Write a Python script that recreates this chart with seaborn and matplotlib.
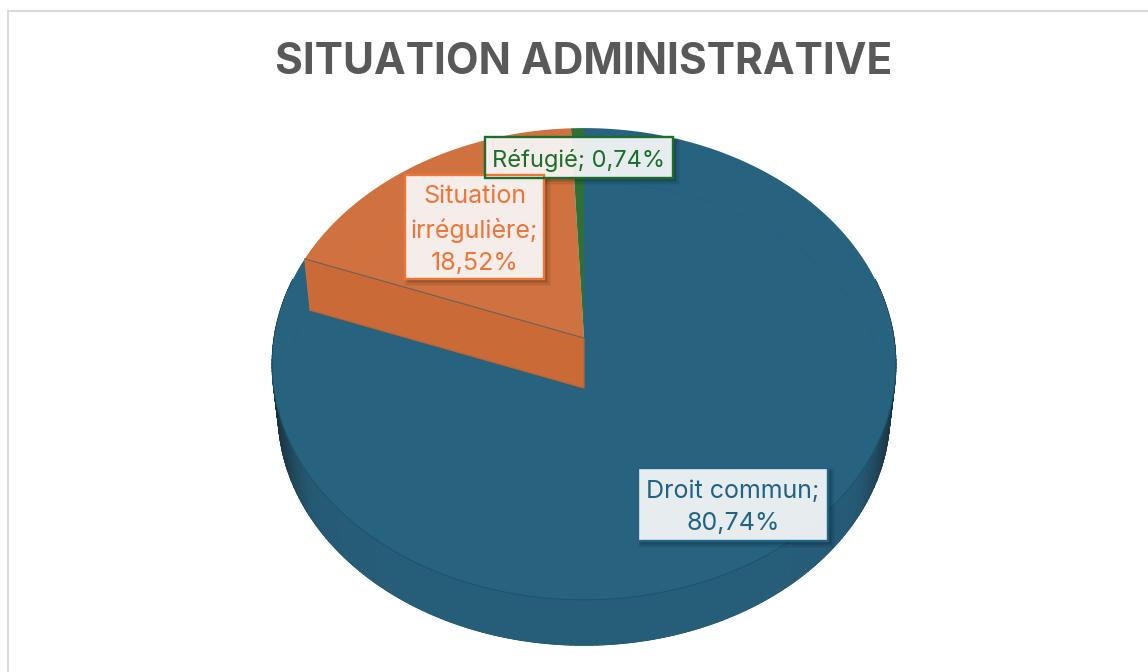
import numpy as np
import matplotlib
matplotlib.use("Agg")
import matplotlib.pyplot as plt
import seaborn as sns
from matplotlib.patches import Rectangle

categories = ["Droit commun", "Situation irrégulière", "Réfugié"]
values = [80.74, 18.52, 0.74]
label_lines = [["Droit commun;", "{}"], ["Situation", "irrégulière;", "{}"], ["Réfugié; {}"]]

sns.set_theme(style="white")
plt.rcParams["font.family"] = ["Inter", "DejaVu Sans"]

face_colors = sns.color_palette(["#27637F", "#D0723F", "#2E7037"])
wall_orange = "#CA6A36"
text_colors = ["#1F6386", "#EE7538", "#1B6E2B"]
side_cmap = sns.blend_palette(["#265D78", "#255A74", "#1E3F50", "#1A2F3B"], 256, as_cmap=True)

# placement of the three label boxes, in pixels: left, top, right, bottom
boxes = [(638, 468, 828, 541), (405, 175, 544, 279), (485, 137, 673, 178)]
label_sizes = [18, 18, 17]

top_ring = dict(cy=338, a=310, b=233)
low_ring = dict(cy=388, a=304, b=229)
persp = 0.11


def project(theta, ring):
    """map clockwise pie angle (degrees from 12 o'clock) to the tilted disc"""
    t = np.radians(theta)
    w = 1 + persp * np.cos(t)
    return 584 + ring["a"] * np.sin(t) / w, ring["cy"] - ring["b"] * np.cos(t) / w


def arc(start, stop, ring):
    return project(np.linspace(start, stop, 240), ring)


def draw_box(ax, box, color):
    x0, y0, x1, y1 = box
    for grow, alpha in [(4, 0.04), (2.5, 0.06), (1, 0.08), (0, 0.1)]:
        ax.add_patch(Rectangle((x0 + 3 - grow, y0 + 3 - grow), x1 - x0 + 2 * grow, y1 - y0 + 2 * grow,
                               facecolor="black", edgecolor="none", alpha=alpha, zorder=8))
    ax.add_patch(Rectangle((x0, y0), x1 - x0, y1 - y0, facecolor="white", alpha=0.9,
                           edgecolor="none", zorder=9))
    ax.add_patch(Rectangle((x0, y0), x1 - x0, y1 - y0, facecolor="none", edgecolor=color,
                           linewidth=1.7, zorder=10))


fig = plt.figure(figsize=(11.48, 6.72), dpi=100)
ax = fig.add_axes([0, 0, 1, 1])
ax.set_xlim(0, 1148)
ax.set_ylim(672, 0)
ax.axis("off")

# outer frame of the chart area
ax.add_patch(Rectangle((8, 10.5), 1200, 700, facecolor="white", edgecolor="#D9D9D9", linewidth=1.4))

ends = np.cumsum(values) * 3.6
starts = np.r_[0, ends[:-1]]

# side of the disc, darker towards the silhouette
xa, ya = arc(75, 285, top_ring)
xb, yb = arc(75, 285, low_ring)
ax.fill(np.r_[xa, xb[::-1]], np.r_[ya, yb[::-1]], color="#25597A", lw=0.5, zorder=1.5)
shade = np.abs(np.sin(np.radians(np.linspace(75, 285, 240)))) ** 6
ax.pcolormesh(np.vstack([xa, xb]), np.vstack([ya, yb]), np.vstack([shade, shade]),
              shading="gouraud", cmap=side_cmap, vmin=0, vmax=1, zorder=2)

# top faces
for start, stop, col in zip(starts, ends, face_colors):
    xs, ys = arc(start, stop, top_ring)
    ax.fill(np.r_[584, xs], np.r_[top_ring["cy"], ys], color=col, lw=0, zorder=3)

# front seam of the top face and back edge seen through the disc
xs, ys = arc(95, 265, top_ring)
ax.plot(xs, ys, color="#1C546E", lw=0.8, zorder=4)
xs, ys = arc(0, 85, low_ring)
ax.plot(xs, ys, color="#256180", lw=0.7, zorder=4)
xs, ys = arc(275, ends[0], low_ring)
ax.plot(xs, ys, color="#256180", lw=0.7, zorder=4)
xs, ys = arc(ends[0], ends[1], low_ring)
ax.plot(xs, ys, color="#DB6F38", lw=0.8, alpha=0.8, zorder=4)

# cut wall of the orange slice
xt, yt = project(np.array([ends[0]]), top_ring)
xl, yl = project(np.array([ends[0]]), low_ring)
ax.fill([xt[0], 584, 584, xl[0]], [yt[0], top_ring["cy"], low_ring["cy"], yl[0]],
        color=wall_orange, lw=0, zorder=5)
ax.plot([xl[0], 584, 584], [yl[0], low_ring["cy"], top_ring["cy"]], color="#C5622D", lw=0.9, zorder=5)
ax.plot([xt[0], xl[0]], [yt[0], yl[0]], color="#D0703C", lw=0.8, zorder=5)
ax.plot([xt[0], 584], [yt[0], top_ring["cy"]], color="#4A5A63", lw=0.8, alpha=0.75, zorder=6)

# labels
for i, box in enumerate(boxes):
    draw_box(ax, box, text_colors[i])
    pct = f"{values[i]:.2f}%".replace(".", ",")
    text = "\n".join(line.format(pct) for line in label_lines[i])
    ax.text((box[0] + box[2]) / 2, (box[1] + box[3]) / 2 + 3, text, color=text_colors[i],
            fontsize=label_sizes[i], ha="center", va="center", linespacing=1.5, zorder=11)

ax.text(584, 63, "SITUATION ADMINISTRATIVE", color="#595959", fontsize=30.6, fontweight="bold",
        ha="center", va="center")

fig.savefig("out.png", dpi=100)
